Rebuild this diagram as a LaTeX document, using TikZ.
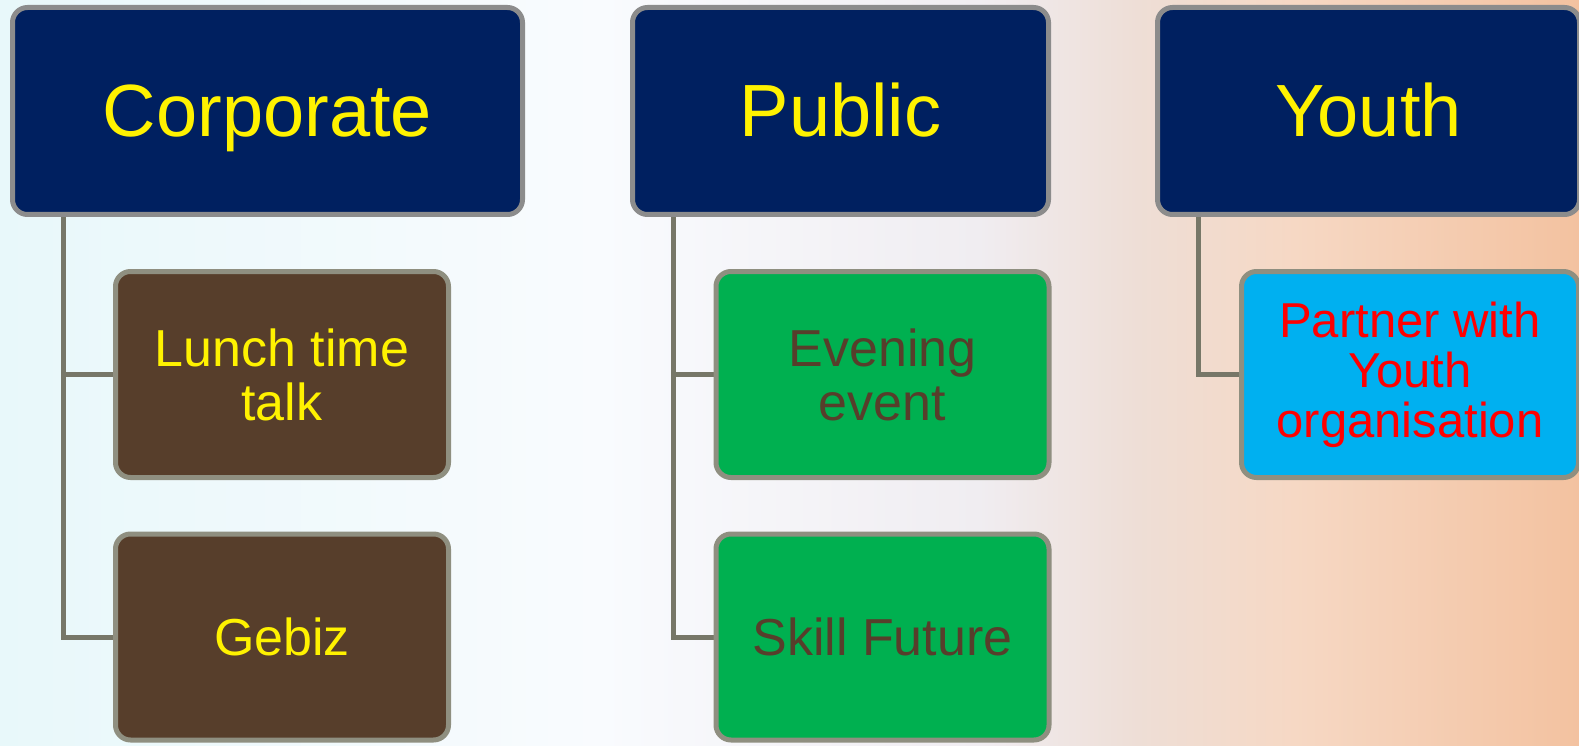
\documentclass[tikz,border=0pt]{standalone}
\usepackage{fontspec}
\setmainfont{Liberation Sans}
\usepackage{tikz}

\definecolor{navy}{HTML}{002060}
\definecolor{bark}{HTML}{573E2B}
\definecolor{leaf}{HTML}{00B050}
\definecolor{sky}{HTML}{00B0F0}
\definecolor{rimgray}{HTML}{8C8C8C}
\definecolor{rimtan}{HTML}{8F8F80}
\definecolor{stemgray}{HTML}{777768}

\pgfdeclarehorizontalshading{backdrop}{100bp}{
    color(0bp)=(rgb,255:red,232;green,248;blue,250);
    color(25bp)=(rgb,255:red,232;green,248;blue,250);
    color(44bp)=(rgb,255:red,249;green,251;blue,254);
    color(56bp)=(rgb,255:red,240;green,237;blue,241);
    color(61bp)=(rgb,255:red,238;green,222;blue,214);
    color(66bp)=(rgb,255:red,246;green,216;blue,196);
    color(75bp)=(rgb,255:red,243;green,194;blue,160);
    color(100bp)=(rgb,255:red,243;green,194;blue,160)}

\pgfdeclarelayer{bg}
\pgfdeclarelayer{stems}
\pgfsetlayers{bg,stems,main}

\tikzset{
    head/.style={rounded corners=15pt, draw=rimgray, line width=5pt, fill=navy,
        text=yellow, minimum height=207pt, inner sep=0pt,
        text height=54pt, text depth=2pt,
        font=\fontsize{74}{80}\selectfont},
    leafbox/.style={rounded corners=15pt, draw=rimtan, line width=5pt,
        minimum width=333pt, minimum height=206pt, inner sep=0pt, align=center,
        font=\fontsize{52}{54}\selectfont},
    stem/.style={draw=stemgray, line width=5pt}
}

\begin{document}
\begin{tikzpicture}[x=1pt, y=-1pt]
    \useasboundingbox (0,0) rectangle (1579,746);
    \clip (0,0) rectangle (1579,746);
    % background
    \begin{pgfonlayer}{bg}
        \shade[shading=backdrop] (0,0) rectangle (1579,746);
    \end{pgfonlayer}

    % top row
    \node (corp) at (267.5,111) [head, minimum width=510pt] {Corporate};
    \node (pub) at (840.5,111) [head, minimum width=416pt] {Public};
    \node (youth) at (1368.5,111) [head, minimum width=422pt] {Youth};

    % second level
    \node (lunch) at (282,374.5) [leafbox, fill=bark, text=yellow] {Lunch time\\talk};
    \node (gebiz) at (282,637) [leafbox, fill=bark, text=yellow] {Gebiz};
    \node (evening) at (882.5,374.5) [leafbox, fill=leaf, text=bark] {Evening\\event};
    \node (skill) at (882.5,637) [leafbox, fill=leaf, text=bark] {Skill Future};
    \node (partner) at (1410,374.5) [leafbox, minimum width=337pt, fill=sky, text=red,
        font=\fontsize{49}{50}\selectfont] {Partner with\\Youth\\organisation};

    % stems
    \coordinate (corpstem) at (63,216);
    \coordinate (pubstem) at (673,216);
    \coordinate (youthstem) at (1198,216);
    \begin{pgfonlayer}{stems}
        \draw[stem] (corpstem) |- (lunch.west);
        \draw[stem] (corpstem) |- (gebiz.west);
        \draw[stem] (pubstem) |- (evening.west);
        \draw[stem] (pubstem) |- (skill.west);
        \draw[stem] (youthstem) |- (partner.west);
    \end{pgfonlayer}
\end{tikzpicture}
\end{document}
